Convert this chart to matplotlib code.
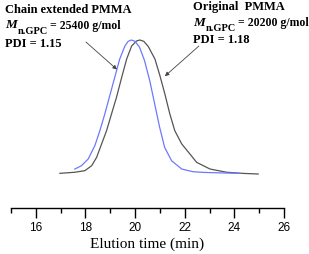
import matplotlib
matplotlib.use('Agg')
from matplotlib import pyplot as plt
from matplotlib.ticker import MultipleLocator

plt.rcParams['font.family'] = ['Liberation Serif', 'DejaVu Serif']

# original PMMA (black trace)
orig_t = [16.97, 17.57, 17.98, 18.25, 18.45, 18.65, 18.85, 19.05, 19.25, 19.46, 19.66,
          19.86, 20.06, 20.19, 20.35, 20.53, 20.8, 21.0, 21.2, 21.4, 21.6, 21.88,
          22.21, 22.48, 23.02, 23.69, 24.3, 24.96]
orig_i = [0.005, 0.013, 0.025, 0.062, 0.124, 0.224, 0.323, 0.448, 0.572, 0.721, 0.858,
          0.955, 0.993, 1.0, 0.99, 0.952, 0.858, 0.734, 0.597, 0.448, 0.323, 0.224,
          0.149, 0.087, 0.037, 0.013, 0.005, 0.0]

# chain extended PMMA (blue trace)
ext_t = [17.57, 17.84, 18.11, 18.38, 18.58, 18.78, 18.98, 19.18, 19.38, 19.59, 19.72,
         19.85, 20.0, 20.18, 20.38, 20.59, 20.79, 20.99, 21.19, 21.47, 21.88, 22.34,
         22.75, 23.5, 24.23]
ext_i = [0.037, 0.062, 0.112, 0.212, 0.323, 0.448, 0.585, 0.721, 0.858, 0.955, 0.99,
         1.0, 0.99, 0.946, 0.846, 0.697, 0.522, 0.348, 0.199, 0.099, 0.037, 0.017,
         0.012, 0.008, 0.005]

W, H = 309, 255
fig = plt.figure(figsize=(W / 100, H / 100), dpi=100)
ax = fig.add_axes([11 / W, 46.5 / H, 273 / W, 208.5 / H])

ax.plot(orig_t, orig_i, color='#555555', lw=0.9)
ax.plot(ext_t, ext_i, color='#6e78ff', lw=0.9)

ax.set_xlim(15, 26)
ax.set_ylim(-0.25, 1.306)
for s in ['left', 'right', 'top']:
    ax.spines[s].set_visible(False)
ax.spines['bottom'].set_linewidth(1.0)
ax.set_yticks([])
ax.xaxis.set_major_locator(MultipleLocator(2))
ax.xaxis.set_minor_locator(MultipleLocator(1))
ax.tick_params(axis='x', which='major', direction='out', length=7, width=1.0, pad=3)
ax.tick_params(axis='x', which='minor', direction='out', length=3.5, width=1.0)
ax.set_xticks([16, 18, 20, 22, 24, 26])
for lab in ax.get_xticklabels():
    lab.set_fontfamily('Liberation Sans')
    lab.set_fontsize(8.5)
ax.set_xlabel('Elution time (min)', fontsize=11, labelpad=2)


def px(x, y):
    # pixel from top-left -> figure fraction
    return x / W, 1 - y / H


def mn_line(x, base, value):
    t1 = fig.text(*px(x, base), 'M', fontsize=9.5, style='italic', fontweight='bold', va='baseline')
    fig.canvas.draw()
    bb = t1.get_window_extent()
    t2 = fig.text(*px(bb.x1 + 0.5, base + 5.5), 'n.GPC', fontsize=7.5, fontweight='bold', va='baseline')
    fig.canvas.draw()
    bb2 = t2.get_window_extent()
    fig.text(*px(bb2.x1 + 2, base + 0.5), '= ' + value + ' g/mol', fontsize=8.5,
             fontweight='bold', va='baseline')


fs = 9
fig.text(*px(5, 10), 'Chain extended PMMA', fontsize=fs, fontweight='bold', va='center')
mn_line(5, 28, '25400')
fig.text(*px(5, 44), 'PDI = 1.15', fontsize=fs, fontweight='bold', va='center')

fig.text(*px(193, 7), 'Original  PMMA', fontsize=fs, fontweight='bold', va='center')
mn_line(193, 25.5, '20200')
fig.text(*px(193, 40), 'PDI = 1.18', fontsize=fs, fontweight='bold', va='center')

arrow = dict(arrowstyle='-|>', color='#444444', lw=0.6, mutation_scale=6, shrinkA=0, shrinkB=0)
ax.annotate('', xy=(19.27, 0.78), xytext=(18.02, 0.985), arrowprops=arrow)
ax.annotate('', xy=(21.2, 0.73), xytext=(22.57, 0.955), arrowprops=arrow)

fig.savefig('out.png', dpi=100)
